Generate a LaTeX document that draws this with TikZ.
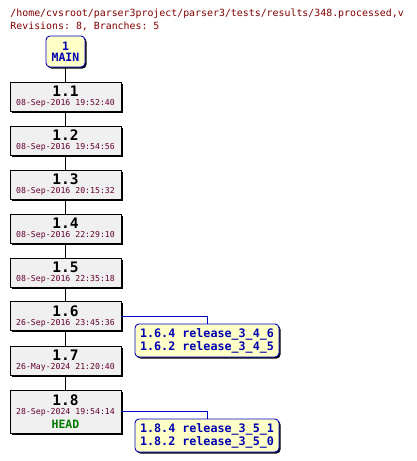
\documentclass[tikz,border=0pt]{standalone}
\usepackage{fontspec}
\setmonofont{DejaVu Sans Mono}
\usepackage{xcolor}
\usetikzlibrary{positioning,shadows}
\definecolor{titlered}{HTML}{800000}
\definecolor{datered}{HTML}{660033}
\definecolor{revgray}{HTML}{F0F0F0}
\definecolor{tagyellow}{HTML}{FFFFC8}
\definecolor{tagblue}{HTML}{0000C8}
\definecolor{tagtext}{HTML}{0000B0}
\definecolor{headgreen}{HTML}{007A00}

\tikzset{
  boxshadow/.style={drop shadow={shadow xshift=1.5pt, shadow yshift=-1.5pt, fill=black, opacity=1}},
  rev/.style={draw=black, fill=revgray, boxshadow, minimum width=111pt, minimum height=29pt,
    inner sep=0pt, align=center, font=\ttfamily\fontsize{8.2}{9}\selectfont},
  tag/.style={draw=tagblue, fill=tagyellow, boxshadow, rounded corners=4pt, minimum width=144pt,
    minimum height=33pt, inner sep=0pt, align=left, text=tagtext,
    font=\ttfamily\bfseries\fontsize{11.7}{13}\selectfont},
  head/.style={tag, minimum width=39pt, minimum height=31pt, align=center, font=\ttfamily\bfseries\fontsize{11.5}{11}\selectfont},
  titletext/.style={anchor=base west, inner sep=0pt, text=titlered, font=\ttfamily\fontsize{9.9}{12}\selectfont},
}
\newcommand{\revnum}[1]{{\fontsize{14.5}{15}\selectfont\bfseries #1}}
\newcommand{\revdate}[1]{{\color{datered}#1}}

\begin{document}
\begin{tikzpicture}[x=1pt,y=-1pt,line width=0.9pt]
    \useasboundingbox (0,0) rectangle (416,461);

    % header
    \node (title) [titletext] at (10,16.5) {/home/cvsroot/parser3project/parser3/tests/results/348.processed,v};
    \node (stats) [titletext] at (10,29) {Revisions: 8, Branches: 5};

    % trunk
    \node (main) [head] at (65.5,51.5) {1\\MAIN};
    \node (r11) [rev] at (65.5,96.5) {\revnum{1.1}\\\revdate{08-Sep-2016 19:52:40}};
    \node (r12) [rev] at (65.5,140.5) {\revnum{1.2}\\\revdate{08-Sep-2016 19:54:56}};
    \node (r13) [rev] at (65.5,184.5) {\revnum{1.3}\\\revdate{08-Sep-2016 20:15:32}};
    \node (r14) [rev] at (65.5,228.5) {\revnum{1.4}\\\revdate{08-Sep-2016 22:29:10}};
    \node (r15) [rev] at (65.5,272.5) {\revnum{1.5}\\\revdate{08-Sep-2016 22:35:18}};
    \node (r16) [rev] at (65.5,316) {\revnum{1.6}\\\revdate{26-Sep-2016 23:45:36}};
    \node (r17) [rev] at (65.5,360.5) {\revnum{1.7}\\\revdate{26-May-2024 21:20:40}};
    \node (r18) [rev, minimum height=43pt] at (65.5,411.5)
        {\revnum{1.8}\\\revdate{28-Sep-2024 19:54:14}\\[3.5pt]{\fontsize{11.5}{11}\selectfont\bfseries\color{headgreen}HEAD}};

    % branch tags
    \node (b16) [tag] at (207,340.5) {1.6.4 release\_3\_4\_6\\1.6.2 release\_3\_4\_5};
    \node (b18) [tag] at (207,435.5) {1.8.4 release\_3\_5\_1\\1.8.2 release\_3\_5\_0};

    \draw (main) -- (r11);
    \draw (r11) -- (r12);
    \draw (r12) -- (r13);
    \draw (r13) -- (r14);
    \draw (r14) -- (r15);
    \draw (r15) -- (r16);
    \draw (r16) -- (r17);
    \draw (r17) -- (r18);
    \draw[tagblue] (r16.east) -| (b16.north);
    \draw[tagblue] (r18.east) -| (b18.north);
\end{tikzpicture}
\end{document}
